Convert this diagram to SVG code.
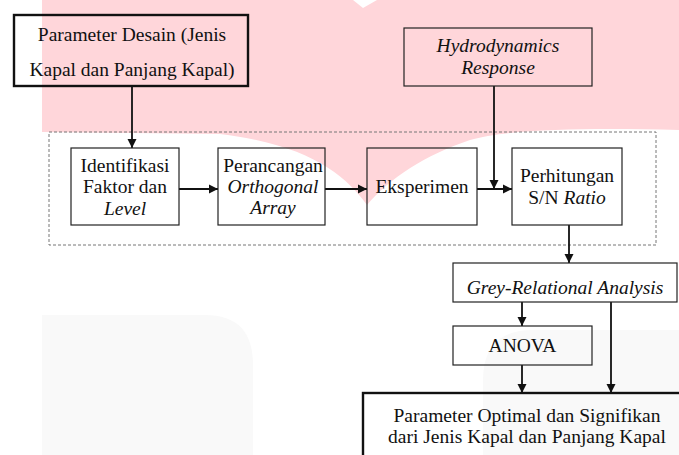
<svg xmlns="http://www.w3.org/2000/svg" width="679" height="455" viewBox="0 0 679 455">
<defs>
<style>
.t{font-family:"Liberation Serif","Times New Roman",serif;font-size:19.5px;fill:#111;text-anchor:middle}
.i{font-style:italic}
.box{fill:none;stroke:#222;stroke-width:1.2}
.thick{fill:none;stroke:#111;stroke-width:2.4}
.conn{fill:none;stroke:#111;stroke-width:1.8}
</style>
<marker id="ah" viewBox="0 0 10 10" refX="10" refY="5" markerWidth="9" markerHeight="10" markerUnits="userSpaceOnUse" orient="auto"><path d="M0,0 L10,5 L0,10 z" fill="#111"/></marker>
</defs>
<rect width="679" height="455" fill="#fff"/>
<g id="watermark">
<path d="M42,0 H679 V130 C600,128 510,128 470,140 C425,155 390,178 367,205 C345,175 310,145 220,134 L42,132 Z" fill="#FFD6DA"/>
<path d="M353,0 L377,0 L363,8 Z" fill="#fff"/>
<path d="M42,315 H205 Q253,315 253,365 V455 H42 Z" fill="#F9F9F9"/>
<path d="M533,330 H679 V455 H483 V380 Q483,330 533,330 Z" fill="#F9F9F9"/>
</g>
<g id="container"><rect x="49" y="132" width="607" height="113" fill="none" stroke="#777" stroke-width="1" stroke-dasharray="3,2"/></g>
<g id="connectors">
<path class="conn" d="M132,86 V148" marker-end="url(#ah)"/>
<path class="conn" d="M179,189 H218" marker-end="url(#ah)"/>
<path class="conn" d="M325,189 H367" marker-end="url(#ah)"/>
<path class="conn" d="M477,189 H512" marker-end="url(#ah)"/>
<path class="conn" d="M494,86 V189" marker-end="url(#ah)"/>
<path class="conn" d="M569,225 V263" marker-end="url(#ah)"/>
<path class="conn" d="M522,302 V326" marker-end="url(#ah)"/>
<path class="conn" d="M522,365 V393" marker-end="url(#ah)"/>
<path class="conn" d="M611,302 V393" marker-end="url(#ah)"/>
</g>
<g id="parameter-desain">
<rect class="thick" x="14" y="15" width="234" height="71"/>
<text class="t" x="132" y="41">Parameter Desain (Jenis</text>
<text class="t" x="132" y="76">Kapal dan Panjang Kapal)</text>
</g>
<g id="hydrodynamics">
<rect class="box" x="404" y="28" width="188" height="58" stroke="#555"/>
<text class="t i" x="498" y="52">Hydrodynamics</text>
<text class="t i" x="498" y="74">Response</text>
</g>
<g id="identifikasi">
<rect class="box" x="71" y="148" width="108" height="77"/>
<text class="t" x="125" y="172">Identifikasi</text>
<text class="t" x="125" y="193">Faktor dan</text>
<text class="t i" x="125" y="215">Level</text>
</g>
<g id="perancangan">
<rect class="box" x="218" y="148" width="107" height="77"/>
<text class="t" x="273" y="172">Perancangan</text>
<text class="t i" x="273" y="193">Orthogonal</text>
<text class="t i" x="273" y="214">Array</text>
</g>
<g id="eksperimen">
<rect class="box" x="367" y="148" width="110" height="77"/>
<text class="t" x="422" y="193">Eksperimen</text>
</g>
<g id="perhitungan">
<rect class="box" x="512" y="148" width="110" height="77"/>
<text class="t" x="567" y="182">Perhitungan</text>
<text class="t" x="567" y="204">S/N <tspan class="i">Ratio</tspan></text>
</g>
<g id="grey-relational">
<rect class="box" x="453" y="263" width="224" height="39"/>
<text class="t i" x="565" y="294">Grey-Relational Analysis</text>
</g>
<g id="anova">
<rect class="box" x="453" y="326" width="139" height="39"/>
<text class="t" x="522.5" y="352">ANOVA</text>
</g>
<g id="parameter-optimal">
<rect class="thick" x="363" y="393" width="330" height="70"/>
<text class="t" x="527" y="422">Parameter Optimal dan Signifikan</text>
<text class="t" x="527" y="443">dari Jenis Kapal dan Panjang Kapal</text>
</g>
</svg>
